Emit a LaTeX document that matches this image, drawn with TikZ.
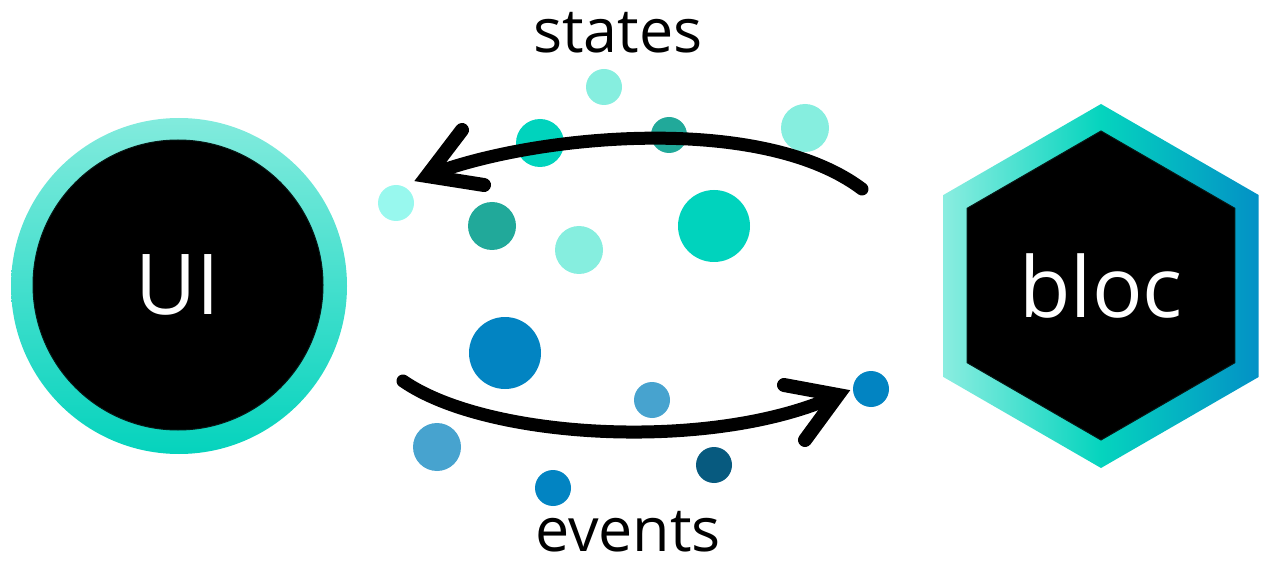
\documentclass[tikz,border=0pt]{standalone}
\usepackage{fontspec}
\setmainfont{Open Sans}
\usetikzlibrary{shapes.geometric}

\definecolor{ringTop}{HTML}{82EBDD}
\definecolor{ringBot}{HTML}{05D3BD}
\definecolor{hexLeft}{HTML}{8AEDE0}
\definecolor{hexMid}{HTML}{05D4BE}
\definecolor{hexRight}{HTML}{0391C6}
\definecolor{aquaPale}{HTML}{98F8EE}
\definecolor{aquaLight}{HTML}{86EEDF}
\definecolor{aqua}{HTML}{00D3BD}
\definecolor{aquaDark}{HTML}{21A99A}
\definecolor{blueMid}{HTML}{0284C2}
\definecolor{blueLight}{HTML}{47A3CF}
\definecolor{blueDark}{HTML}{075A7F}

\begin{document}
\begin{tikzpicture}[x=1pt, y=-1pt,
  bubble/.style={circle, inner sep=0pt, minimum size=#1},
  flow/.style={line width=13pt, line cap=round},
  barb/.style={line width=14pt, line cap=round, line join=miter},
  bigtext/.style={text=white, font=\fontsize{84}{84}\selectfont},
  caption/.style={anchor=base, inner sep=0pt, font=\fontsize{61}{61}\selectfont}]

\useasboundingbox (0,0) rectangle (1266,561);

% UI: gradient ring with a black disc
\node[circle, inner sep=0pt, minimum size=336pt, top color=ringTop, bottom color=ringBot] (uiring) at (179,286) {};
\node[circle, inner sep=0pt, minimum size=290pt, fill=black, draw=black!85!aquaDark, line width=1pt, bigtext] (ui) at (178,285) {UI};

% bloc: gradient hexagon with a black hexagon
\node[regular polygon, regular polygon sides=6, shape border rotate=30, inner sep=0pt, minimum size=364pt,
      left color=hexLeft, right color=hexRight, middle color=hexMid] (blocring) at (1101,286) {};
\node[regular polygon, regular polygon sides=6, shape border rotate=30, inner sep=0pt, minimum size=309pt,
      fill=black, draw=black!85!aquaDark, line width=1pt, bigtext] (bloc) at (1101,285.5) {bloc};

% state bubbles
\node[bubble=36pt, fill=aquaPale]  (s1) at (396,203) {};
\node[bubble=36pt, fill=aquaLight] (s2) at (604,87) {};
\node[bubble=48pt, fill=aqua]      (s3) at (540,143) {};
\node[bubble=36pt, fill=aquaDark]  (s4) at (669,135) {};
\node[bubble=48pt, fill=aquaLight] (s5) at (805,128) {};
\node[bubble=48pt, fill=aquaDark]  (s6) at (492,226) {};
\node[bubble=48pt, fill=aquaLight] (s7) at (579,250) {};
\node[bubble=72pt, fill=aqua]      (s8) at (714,226) {};

% event bubbles
\node[bubble=72pt, fill=blueMid]   (e1) at (505,353) {};
\node[bubble=36pt, fill=blueLight] (e2) at (652,400) {};
\node[bubble=36pt, fill=blueMid]   (e3) at (871,389) {};
\node[bubble=48pt, fill=blueLight] (e4) at (437,447) {};
\node[bubble=36pt, fill=blueMid]   (e5) at (553,488) {};
\node[bubble=36pt, fill=blueDark]  (e6) at (714,465) {};

% labels
\node[caption] (states) at (618,53) {states};
\node[caption] (events) at (628,551) {events};

% states flow: bloc -> UI
\coordinate (stFrom) at (862,189);
\coordinate (stTip)  at (427,176);
\coordinate (stArmA) at (462,130);
\coordinate (stArmB) at (484,185);
\draw[flow] (stFrom) .. controls (760,112) and (530,135) .. (stTip);
\draw[barb] (stArmA) -- (stTip) -- (stArmB);

% events flow: UI -> bloc
\coordinate (evFrom) at (403,381);
\coordinate (evTip)  at (838,395);
\coordinate (evArmA) at (784,385);
\coordinate (evArmB) at (805,440);
\draw[flow] (evFrom) .. controls (488,440) and (715,452) .. (evTip);
\draw[barb] (evArmA) -- (evTip) -- (evArmB);

\end{tikzpicture}
\end{document}
